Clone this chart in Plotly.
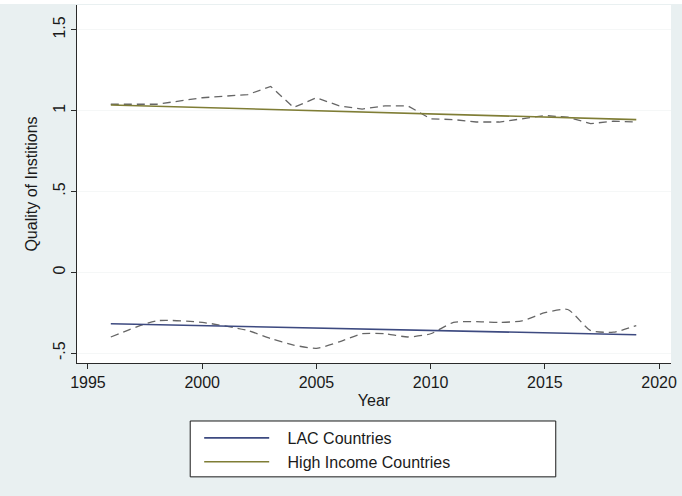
import plotly.graph_objects as go

# Survey years (WGI: biennial to 2000, annual afterwards)
years = [1996, 1998, 2000, 2002, 2003, 2004, 2005, 2006, 2007, 2008, 2009,
         2010, 2011, 2012, 2013, 2014, 2015, 2016, 2017, 2018, 2019]

# Average quality of institutions, by country group
lac_values = [-0.40, -0.30, -0.31, -0.36, -0.41, -0.45, -0.47, -0.43, -0.38, -0.38, -0.40,
              -0.38, -0.31, -0.305, -0.31, -0.30, -0.25, -0.23, -0.36, -0.37, -0.33]
hi_values = [1.04, 1.04, 1.08, 1.10, 1.15, 1.02, 1.08, 1.03, 1.01, 1.03, 1.03,
             0.95, 0.945, 0.93, 0.93, 0.95, 0.97, 0.96, 0.92, 0.935, 0.93]

# Linear fitted values at the ends of the period
fit_years = [1996, 2019]
lac_fit = [-0.318, -0.386]
hi_fit = [1.035, 0.945]

x_ticks = [1995, 2000, 2005, 2010, 2015, 2020]
y_ticks = [-0.5, 0, 0.5, 1, 1.5]
y_tick_text = ["-.5", "0", ".5", "1", "1.5"]

FONT = "Liberation Sans, Arial, Helvetica, sans-serif"
TEXT = "#1a1a1a"
LAC_COLOR = "#3d4a80"
HI_COLOR = "#7f7d35"
DASH_COLOR = "#666666"
GAP = "\u00a0\u00a0\u00a0"  # space between legend key and label

fig = go.Figure()

fig.add_trace(go.Scatter(x=years, y=lac_values, mode="lines", showlegend=False,
                         line=dict(color=DASH_COLOR, width=1.3, dash="8px,5px",
                                   shape="spline", smoothing=0.6),
                         hoverinfo="skip"))
fig.add_trace(go.Scatter(x=years, y=hi_values, mode="lines", showlegend=False,
                         line=dict(color=DASH_COLOR, width=1.3, dash="8px,5px"),
                         hoverinfo="skip"))
fig.add_trace(go.Scatter(x=fit_years, y=lac_fit, mode="lines", name=GAP + "LAC Countries",
                         line=dict(color=LAC_COLOR, width=1.6)))
fig.add_trace(go.Scatter(x=fit_years, y=hi_fit, mode="lines",
                         name=GAP + "High Income Countries",
                         line=dict(color=HI_COLOR, width=1.6)))

axis_common = dict(showline=True, linecolor="#2a2a2a", linewidth=1,
                   ticks="outside", ticklen=5, tickcolor="#2a2a2a",
                   zeroline=False, mirror=False,
                   tickfont=dict(family=FONT, size=16, color=TEXT))

fig.update_xaxes(range=[1994.52, 2020.52], tickvals=x_ticks, showgrid=False,
                 title=dict(text="Year", font=dict(family=FONT, size=16, color=TEXT),
                            standoff=4),
                 **axis_common)
fig.update_yaxes(range=[-0.561, 1.654], tickvals=y_ticks, ticktext=y_tick_text,
                 tickangle=-90, showgrid=True, gridcolor="#f5f7f7", gridwidth=1,
                 title=dict(text="Quality of Institions",
                            font=dict(family=FONT, size=16, color=TEXT), standoff=8),
                 **axis_common)

# Legend frame (wide box centred under the plot)
fig.add_shape(type="rect", xref="paper", yref="paper",
              x0=0.1906, x1=0.806, y0=-0.318, y1=-0.162,
              line=dict(color="#1a1a1a", width=1), fillcolor="white", layer="below")
# Thin white band along the top edge of the page
fig.add_shape(type="rect", xref="paper", yref="paper",
              x0=-0.2, x1=1.2, y0=1.0028, y1=1.02,
              line=dict(width=0), fillcolor="white")

fig.update_layout(
    width=682, height=496,
    margin=dict(l=77, r=7, t=5, b=133),
    paper_bgcolor="#e9f0f1",
    plot_bgcolor="white",
    font=dict(family=FONT, size=16, color=TEXT),
    legend=dict(x=0.2057, y=-0.162, xanchor="left", yanchor="top",
                bgcolor="rgba(0,0,0,0)", borderwidth=0,
                font=dict(family=FONT, size=16, color=TEXT),
                itemwidth=65, tracegroupgap=0),
)

fig.write_html("out.html")
